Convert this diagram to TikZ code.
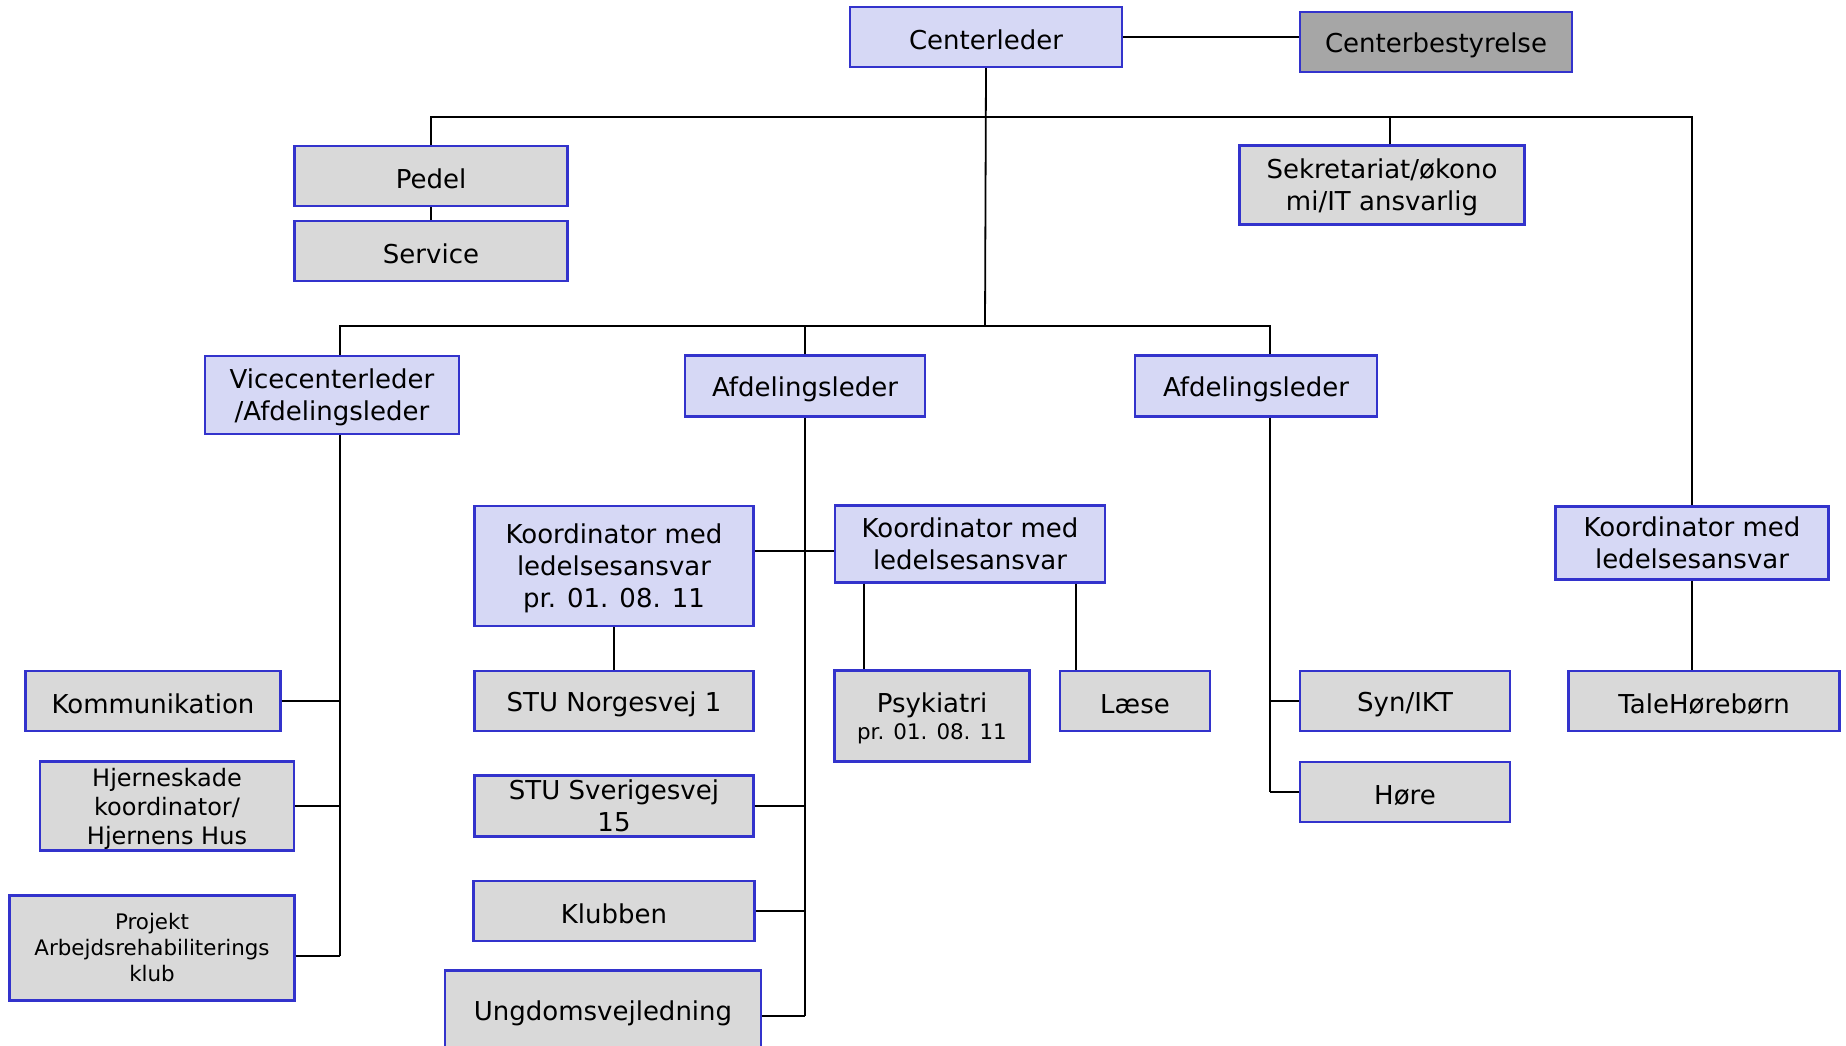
\documentclass[tikz,border=0pt]{standalone}
\usepackage{fontspec}
\setmainfont{DejaVu Sans}
\usetikzlibrary{positioning, calc}

\definecolor{lavendel}{RGB}{214,216,245}
\definecolor{lysgraa}{RGB}{217,217,217}
\definecolor{moerkgraa}{RGB}{166,166,166}
\definecolor{kant}{RGB}{51,51,204}

\tikzset{
  boks/.style={draw=kant, line width=1.1pt, inner sep=2pt, align=center, font=\fontsize{13}{16}\selectfont,
    execute at begin node={\rule{0pt}{12.9pt}}},
  leder/.style={boks, fill=lavendel},
  enhed/.style={boks, fill=lysgraa},
  flere/.style={text depth=0pt},
  lille/.style={font=\fontsize{10.7}{13}\selectfont, execute at begin node={}},
  linje/.style={black, line width=0.9pt},
}

\begin{document}
\begin{tikzpicture}[x=0.5pt, y=-0.5pt]
\path[use as bounding box, fill=white] (0,0) rectangle (1846,1045);

% ledelse
\node[leder, minimum width=136pt, minimum height=30pt] (CL) at (986,37) {Centerleder};
\node[boks, fill=moerkgraa, minimum width=136pt, minimum height=30pt] (CB) at (1436,42) {Centerbestyrelse};
\node[enhed, minimum width=136.5pt, minimum height=30pt] (Pedel) at (431,176) {Pedel};
\node[enhed, minimum width=136.5pt, minimum height=30pt] (Service) at (431,251) {Service};
\node[enhed, flere, minimum width=142.5pt, minimum height=39.5pt] (Sekr) at (1382,185) {Sekretariat/økono\\mi/IT ansvarlig};

% afdelinger
\node[leder, flere, minimum width=127pt, minimum height=39pt] (VCL) at (332,395) {Vicecenterleder\\/Afdelingsleder};
\node[leder, minimum width=120pt, minimum height=30.5pt] (AfdA) at (805,386) {Afdelingsleder};
\node[leder, minimum width=121pt, minimum height=30.5pt] (AfdB) at (1256,386) {Afdelingsleder};

% koordinatorer
\node[leder, flere, minimum width=139.5pt, minimum height=60pt] (KoordA) at (614,566) {Koordinator med\\ledelsesansvar\\pr. 01. 08. 11};
\node[leder, flere, minimum width=135pt, minimum height=38.5pt] (KoordB) at (970,544) {Koordinator med\\ledelsesansvar};
\node[leder, flere, minimum width=136.5pt, minimum height=36.5pt] (KoordC) at (1692,543) {Koordinator med\\ledelsesansvar};

% venstre gren
\node[enhed, minimum width=127.5pt, minimum height=30pt] (Komm) at (153,701) {Kommunikation};
\node[enhed, flere, font=\fontsize{12}{14.5}\selectfont, minimum width=127pt, minimum height=44.5pt] (Hjerne) at (167,806) {Hjerneskade\\koordinator/\\Hjernens Hus};
\node[enhed, lille, minimum width=142.5pt, minimum height=52.5pt] (Projekt) at (152,948) {Projekt\\Arbejdsrehabiliterings\\klub};

% midterste gren
\node[enhed, inner ysep=-1pt, minimum width=139.5pt, minimum height=30.5pt] (Sverige) at (614,806) {STU Sverigesvej\\15};
\node[enhed, minimum width=139.5pt, minimum height=30pt] (Norge) at (614,701) {STU Norgesvej 1};
\node[enhed, minimum width=140.5pt, minimum height=30pt] (Klub) at (614,911) {Klubben};
\node[enhed, minimum width=157.75pt, minimum height=39.5pt] (Ungdom) at (603,1010) {Ungdomsvejledning};
\node[enhed, flere, minimum width=97.5pt, minimum height=45.5pt] (Psyk) at (932,716) {Psykiatri\\[-2.5pt]{\fontsize{10.7}{13}\selectfont pr. 01. 08. 11}};
\node[enhed, minimum width=75pt, minimum height=30pt] (Laese) at (1135,701) {Læse};

% højre grene
\node[enhed, minimum width=105pt, minimum height=30pt] (Syn) at (1405,701) {Syn/IKT};
\node[enhed, minimum width=105pt, minimum height=30pt] (Hoere) at (1405,792) {Høre};
\node[enhed, minimum width=135.5pt, minimum height=30pt] (Tale) at (1704,701) {TaleHørebørn};

% forbindelser
\coordinate (hoved) at (985,117);
\coordinate (mellem) at (985,326);
\draw[linje] (CL.east) -- ([yshift=2.5pt]CB.west);
\draw[linje] (CL.south) -- (mellem);
\draw[linje] (Pedel.north) |- (KoordC.north |- hoved) -- (KoordC.north);
\draw[linje] (Pedel) -- (Service);
\draw[linje] ([xshift=4pt]Sekr.north) -- ([xshift=4pt]Sekr.north |- hoved);
\draw[linje] ([xshift=4pt]VCL.north) |- ([xshift=7pt]AfdB.north |- mellem) -- ([xshift=7pt]AfdB.north);
\draw[linje] (AfdA.north) -- (AfdA.north |- mellem);

\coordinate (vspine) at ([xshift=4pt]VCL.south);
\draw[linje] (vspine) -- (vspine |- 0,956);
\draw[linje] (Komm.east) -- (Komm.east -| vspine);
\draw[linje] (Hjerne.east) -- (Hjerne.east -| vspine);
\draw[linje] ([yshift=-4pt]Projekt.east) -- ([yshift=-4pt]Projekt.east -| vspine);

\draw[linje] (AfdA.south) -- (AfdA.south |- 0,1016);
\draw[linje] ([yshift=-3.5pt]KoordB.west) -- ([yshift=-3.5pt]KoordB.west -| KoordA.east);
\draw[linje] (KoordA) -- (Norge);
\draw[linje] (Sverige.east) -- (Sverige.east -| AfdA.south);
\draw[linje] (Klub.east) -- (Klub.east -| AfdA.south);
\draw[linje] ([yshift=-3pt]Ungdom.east) -- ([yshift=-3pt]Ungdom.east -| AfdA.south);
\draw[linje] ([xshift=15pt]KoordB.south west) -- ([xshift=15pt]KoordB.south west |- Psyk.north);
\draw[linje] ([xshift=-15pt]KoordB.south east) -- ([xshift=-15pt]KoordB.south east |- Laese.north);

\coordinate (hspine) at ([xshift=7pt]AfdB.south);
\draw[linje] (hspine) -- (hspine |- Hoere.west);
\draw[linje] (Syn.west) -- (Syn.west -| hspine);
\draw[linje] (Hoere.west) -- (Hoere.west -| hspine);
\draw[linje] (KoordC.south) -- (KoordC.south |- Tale.north);
\end{tikzpicture}
\end{document}
